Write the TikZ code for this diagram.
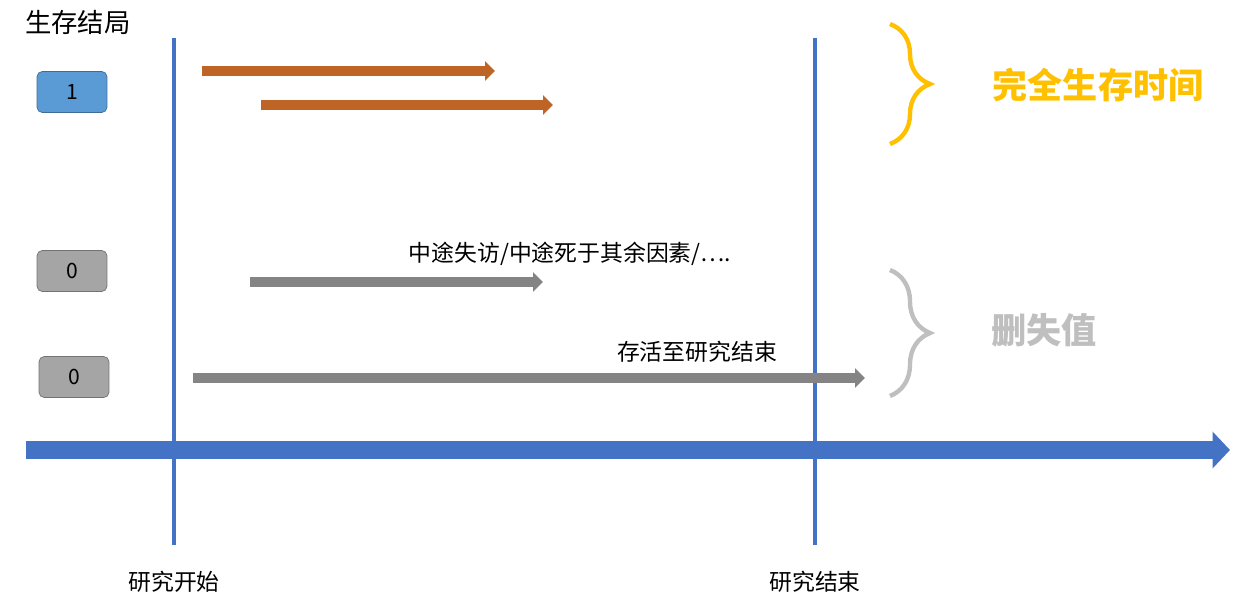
\documentclass[tikz,border=0pt]{standalone}
\usepackage{fontspec}
\setmainfont{Noto Sans CJK SC}
\usetikzlibrary{arrows.meta,decorations.pathreplacing}
\definecolor{axisblue}{RGB}{68,114,196}
\definecolor{boxblue}{RGB}{91,155,213}
\definecolor{orng}{RGB}{237,125,49}
\definecolor{gry}{RGB}{165,165,165}
\definecolor{gold}{RGB}{255,192,0}
\definecolor{lgry}{RGB}{191,191,191}
\tikzset{
    outcome/.style={draw=#1!70!black,fill=#1,rounded corners=3pt,minimum width=1.4cm,
        minimum height=0.82cm,font=\fontsize{12}{12}\selectfont},
    bar/.style={draw=#1!80!black,line width=0.2cm,-{Triangle[length=0.2cm,width=0.38cm]}},
    lab/.style={font=\fontsize{13}{13}\selectfont},
    curly/.style={decorate,decoration={brace,amplitude=0.8cm},line width=2.5pt,#1}
}
\begin{document}
\begin{tikzpicture}[x=0.02cm,y=-0.02cm]
    \useasboundingbox (0,0) rectangle (1244,614);
    % title
    \node[font=\fontsize{15}{15}\selectfont] (title) at (78,22) {生存结局};
    % study window
    \draw[axisblue,line width=2.5pt] (174,38) coordinate (s0) -- (174,545) coordinate (s1);
    \draw[axisblue,line width=2.5pt] (815,38) coordinate (e0) -- (815,545) coordinate (e1);
    \draw[axisblue,line width=0.36cm,-{Triangle[length=0.35cm,width=0.72cm]}]
        (26,450) coordinate (t0) -- (1230,450) coordinate (t1);
    \node[lab] (start) at (174,582) {研究开始};
    \node[lab] (end) at (815,582) {研究结束};
    % outcomes
    \node[outcome=boxblue] (o1) at (72,92) {1};
    \node[outcome=gry] (o2) at (72,271) {0};
    \node[outcome=gry] (o3) at (74,377) {0};
    % follow-up
    \draw[bar=orng] (202,71) coordinate (a0) -- (495,71) coordinate (a1);
    \draw[bar=orng] (261,105) coordinate (b0) -- (553,105) coordinate (b1);
    \draw[bar=gry] (250,282) coordinate (c0) -- (543,282) coordinate (c1);
    \draw[bar=gry] (193,378) coordinate (d0) -- (865,378) coordinate (d1);
    \node[lab] (lost) at (570,254) {中途失访/中途死于其余因素/….};
    \node[lab] (alive) at (697,352) {存活至研究结束};
    % braces
    \draw[curly=gold] (890,24) coordinate (g0) -- (890,144) coordinate (g1);
    \draw[curly=lgry] (890,270) coordinate (h0) -- (890,396) coordinate (h1);
    \node[gold,font=\fontsize{20}{20}\selectfont\bfseries] (full) at (1098,85) {完全生存时间};
    \node[lgry,font=\fontsize{20}{20}\selectfont\bfseries] (cens) at (1044,330) {删失值};
\end{tikzpicture}
\end{document}
